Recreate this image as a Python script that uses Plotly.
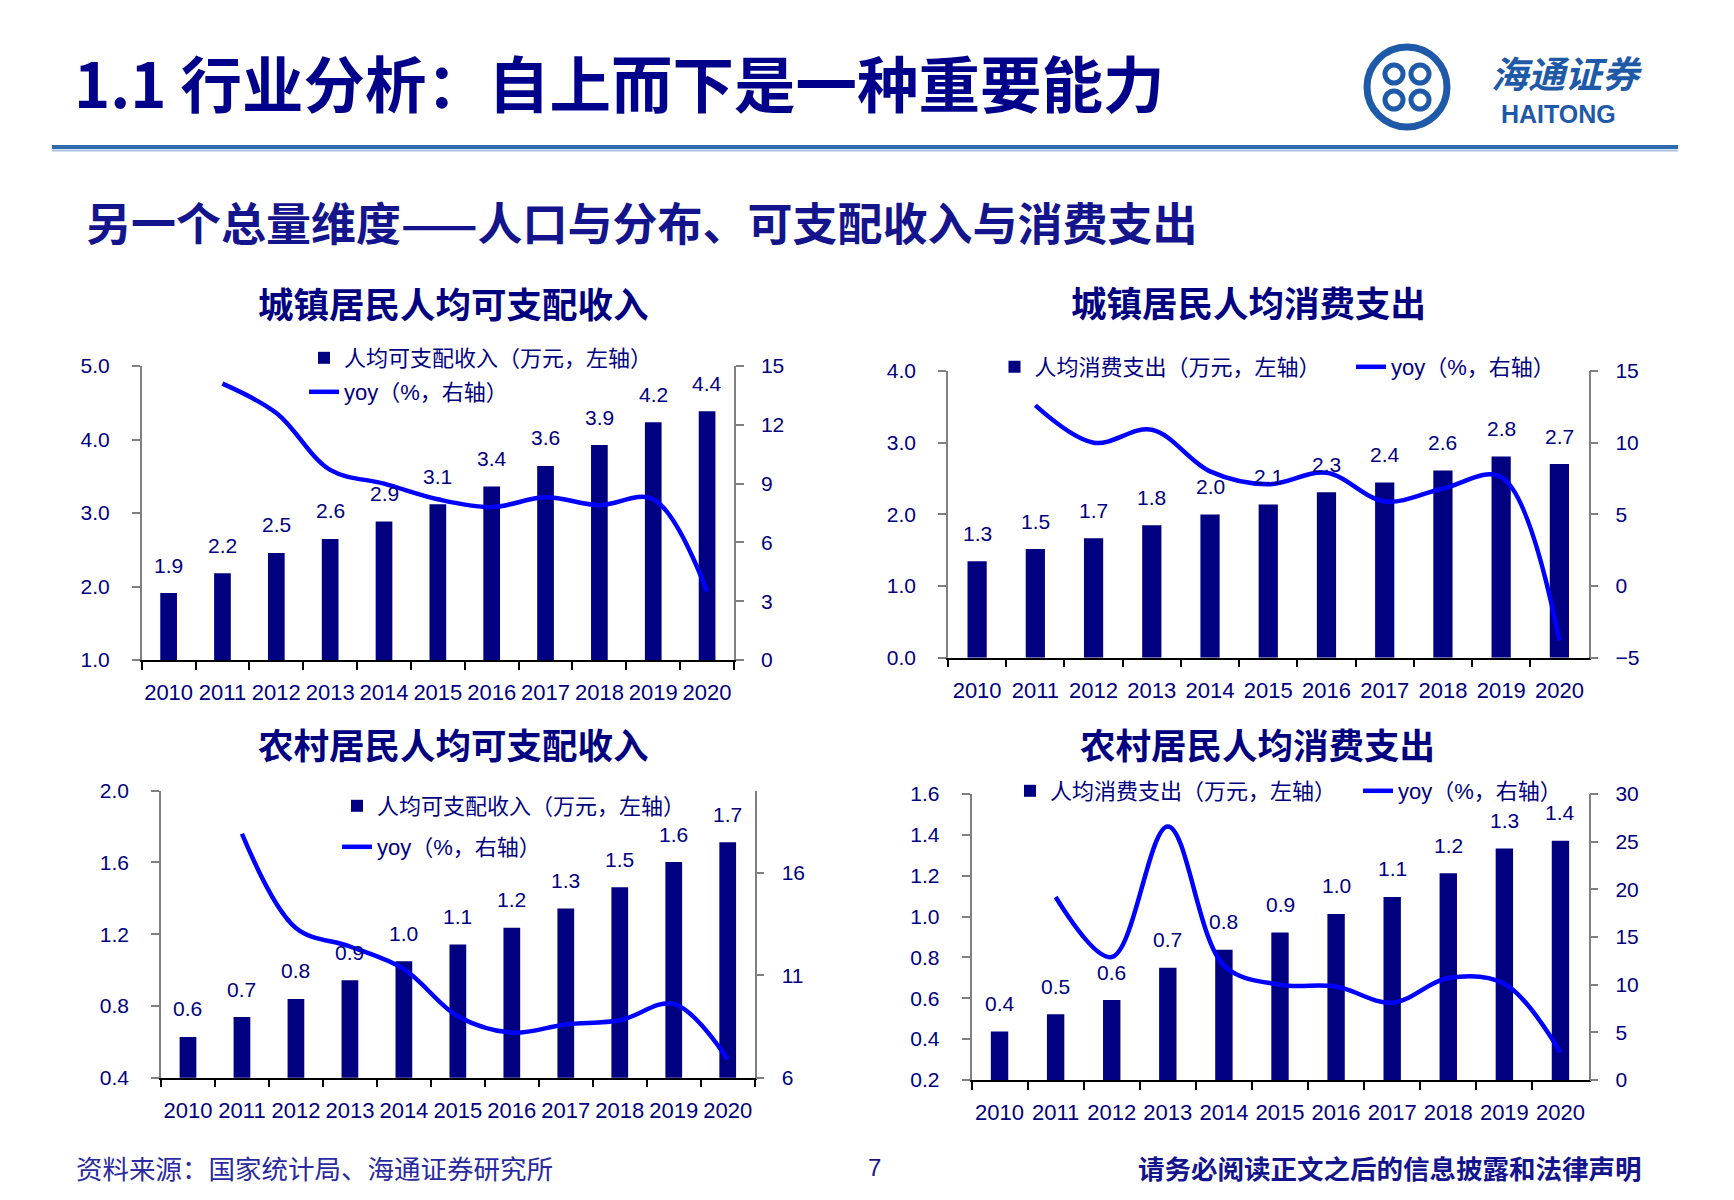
import plotly.graph_objects as go

W, H = 1734, 1200

years = ["2010", "2011", "2012", "2013", "2014", "2015", "2016", "2017", "2018", "2019", "2020"]
yoy_years = years[1:]

urban_income = [1.911, 2.181, 2.457, 2.647, 2.884, 3.120, 3.362, 3.640, 3.925, 4.236, 4.383]
urban_income_yoy = [14.1, 12.6, 9.7, 9.0, 8.2, 7.8, 8.3, 7.9, 8.2, 3.5]

urban_cons = [1.347, 1.516, 1.667, 1.849, 1.997, 2.139, 2.308, 2.445, 2.611, 2.806, 2.701]
urban_cons_yoy = [12.6, 10.0, 10.9, 8.0, 7.1, 7.9, 5.9, 6.8, 7.6, -3.8]

rural_income = [0.627, 0.738, 0.839, 0.943, 1.049, 1.142, 1.236, 1.343, 1.462, 1.602, 1.713]
rural_income_yoy = [17.9, 13.3, 12.4, 11.3, 9.0, 8.2, 8.6, 8.8, 9.6, 6.9]

rural_cons = [0.438, 0.522, 0.591, 0.749, 0.838, 0.922, 1.013, 1.096, 1.212, 1.333, 1.371]
rural_cons_yoy = [19.2, 12.9, 26.6, 12.0, 10.0, 9.8, 8.1, 10.7, 10.1, 2.9]

chart_titles = ["城镇居民人均可支配收入", "城镇居民人均消费支出", "农村居民人均可支配收入", "农村居民人均消费支出"]
bar_names = ["人均可支配收入（万元，左轴）", "人均消费支出（万元，左轴）", "人均可支配收入（万元，左轴）", "人均消费支出（万元，左轴）"]
line_name = "yoy（%，右轴）"

NAVY = "#000080"
BLUE = "#0000FF"
TXT = "#000080"
AXG = "#808080"
LAT = "Liberation Sans, Arial, Noto Sans CJK SC"
CJK = "Noto Sans CJK SC, Noto Sans CJK JP"


def fx(x):
    return x / W


def fy(y):
    return 1 - y / H


panels = [
    dict(bars=urban_income, yoy=urban_income_yoy, box=(141.7, 366, 734, 660),
         yl=dict(range=[1, 5], dtick=1), yr=dict(range=[0, 15], dtick=3, tick0=0), bw=0.31,
         title_xy=(453, 302), leg_bar=(344, 358), leg_line=(344, 392)),
    dict(bars=urban_cons, yoy=urban_cons_yoy, box=(948, 371, 1588.5, 657.7),
         yl=dict(range=[0, 4], dtick=1), yr=dict(range=[-5, 15], dtick=5, tick0=0), bw=0.33,
         title_xy=(1248, 301), leg_bar=(1034.5, 367), leg_line=(1391, 367)),
    dict(bars=rural_income, yoy=rural_income_yoy, box=(161, 790.7, 754.7, 1077.7),
         yl=dict(range=[0.4, 2.0], dtick=0.4, tick0=0.4), yr=dict(range=[6, 20], dtick=5, tick0=6), bw=0.31,
         title_xy=(453, 743), leg_bar=(377, 806), leg_line=(377, 847)),
    dict(bars=rural_cons, yoy=rural_cons_yoy, box=(971.5, 794, 1588.5, 1080),
         yl=dict(range=[0.2, 1.6], dtick=0.2, tick0=0.2), yr=dict(range=[0, 30], dtick=5, tick0=0), bw=0.31,
         title_xy=(1257, 743), leg_bar=(1050, 791), leg_line=(1398, 791)),
]

fig = go.Figure()
layout = dict(
    width=W, height=H,
    margin=dict(l=0, r=0, t=0, b=0, autoexpand=False),
    paper_bgcolor="white", plot_bgcolor="rgba(0,0,0,0)",
    barmode="overlay",
    annotations=[], shapes=[],
)

for i, p in enumerate(panels, start=1):
    xname = "xaxis" if i == 1 else f"xaxis{i}"
    xref = "x" if i == 1 else f"x{i}"
    li, ri = 2 * i - 1, 2 * i
    ylname = "yaxis" if li == 1 else f"yaxis{li}"
    ylref = "y" if li == 1 else f"y{li}"
    yrname = f"yaxis{ri}"
    yrref = f"y{ri}"
    lb = "legend" if li == 1 else f"legend{li}"
    ll = f"legend{ri}"
    x0, y0, x1, y1 = p["box"]

    fig.add_trace(go.Bar(
        x=years, y=p["bars"], name=bar_names[i - 1], xaxis=xref, yaxis=ylref,
        marker=dict(color=NAVY, line=dict(width=0)), width=p["bw"],
        legend=lb, showlegend=True, hoverinfo="x+y",
    ))
    fig.add_trace(go.Scatter(
        x=yoy_years, y=p["yoy"], name=line_name, xaxis=xref, yaxis=yrref,
        mode="lines", line=dict(color=BLUE, width=4.5, shape="spline", smoothing=1.0),
        legend=ll, showlegend=True,
    ))

    layout[xname] = dict(
        domain=[fx(x0), fx(x1)], anchor=ylref, type="category",
        categoryorder="array", categoryarray=years, range=[-0.5, len(years) - 0.5],
        showline=True, linecolor="black", linewidth=1.5,
        ticks="outside", tickson="boundaries", ticklen=8, tickcolor="black", tickwidth=1.5,
        tickfont=dict(family=LAT, size=22, color=TXT), ticklabelstandoff=12, tickangle=0,
        showgrid=False, zeroline=False, fixedrange=True,
    )
    layout[ylname] = dict(
        domain=[fy(y1), fy(y0)], anchor=xref, side="left",
        range=p["yl"]["range"], dtick=p["yl"]["dtick"], tick0=p["yl"].get("tick0", 0),
        tickformat=".1f",
        showline=True, linecolor=AXG, linewidth=1.5,
        ticks="outside", ticklen=8, tickcolor=AXG, tickwidth=1.5,
        tickfont=dict(family=LAT, size=21, color=TXT), ticklabelstandoff=18,
        showgrid=False, zeroline=False,
    )
    layout[yrname] = dict(
        overlaying=ylref, anchor=xref, side="right",
        range=p["yr"]["range"], dtick=p["yr"]["dtick"], tick0=p["yr"]["tick0"],
        showline=True, linecolor=AXG, linewidth=1.5,
        ticks="outside", ticklen=8, tickcolor=AXG, tickwidth=1.5,
        tickfont=dict(family=LAT, size=21, color=TXT), ticklabelstandoff=13,
        showgrid=False, zeroline=False,
    )
    legfont = dict(family=LAT, size=22, color=TXT)
    layout[lb] = dict(x=fx(p["leg_bar"][0] - 40), y=fy(p["leg_bar"][1]), xanchor="left", yanchor="middle",
                      bgcolor="rgba(0,0,0,0)", borderwidth=0, font=legfont)
    layout[ll] = dict(x=fx(p["leg_line"][0] - 40), y=fy(p["leg_line"][1]), xanchor="left", yanchor="middle",
                      bgcolor="rgba(0,0,0,0)", borderwidth=0, font=legfont)

    # chart title
    layout["annotations"].append(dict(
        text=f"<b>{chart_titles[i - 1]}</b>", xref="paper", yref="paper",
        x=fx(p["title_xy"][0]), y=fy(p["title_xy"][1]), xanchor="center", yanchor="middle",
        showarrow=False, font=dict(family=CJK, size=35.5, color=NAVY),
    ))
    # data labels (category index on the category axis)
    for j, v in enumerate(p["bars"]):
        layout["annotations"].append(dict(
            text=f"{v:.1f}", x=j, y=v, xref=xref, yref=ylref, yshift=28,
            xanchor="center", yanchor="middle", showarrow=False,
            font=dict(family=LAT, size=21, color=TXT),
        ))

# page title, subtitle, footer
layout["annotations"] += [
    dict(text="<b>1.1 行业分析：自上而下是一种重要能力</b>", xref="paper", yref="paper",
         x=fx(72), y=fy(81), xanchor="left", yanchor="middle", showarrow=False,
         font=dict(family=CJK, size=61.5, color="#00008B")),
    dict(text="<b>另一个总量维度——人口与分布、可支配收入与消费支出</b>", xref="paper", yref="paper",
         x=fx(84), y=fy(221), xanchor="left", yanchor="middle", showarrow=False,
         font=dict(family=CJK, size=45, color="#14148C")),
    dict(text="资料来源：国家统计局、海通证券研究所", xref="paper", yref="paper",
         x=fx(74), y=fy(1167), xanchor="left", yanchor="middle", showarrow=False,
         font=dict(family=CJK, size=26.5, color="#2A2AA0")),
    dict(text="7", xref="paper", yref="paper",
         x=fx(874), y=fy(1167), xanchor="center", yanchor="middle", showarrow=False,
         font=dict(family=LAT, size=24, color="#14148C")),
    dict(text="<b>请务必阅读正文之后的信息披露和法律声明</b>", xref="paper", yref="paper",
         x=fx(1644), y=fy(1167), xanchor="right", yanchor="middle", showarrow=False,
         font=dict(family=CJK, size=26.5, color="#14148C")),
    # logo text
    dict(text="<b><i>海通证券</i></b>", xref="paper", yref="paper",
         x=fx(1566), y=fy(72), xanchor="center", yanchor="middle", showarrow=False,
         font=dict(family=CJK, size=37, color="#1E5AA8")),
    dict(text="<b>HAITONG</b>", xref="paper", yref="paper",
         x=fx(1558), y=fy(114), xanchor="center", yanchor="middle", showarrow=False,
         font=dict(family=LAT, size=25, color="#1E5AA8")),
]

LOGO = "#1E5AA8"
cx, cy, r = 1407, 87, 40
layout["shapes"] += [
    dict(type="line", xref="paper", yref="paper", x0=fx(52), x1=fx(1678), y0=fy(147), y1=fy(147),
         line=dict(color="#2E6AAE", width=4)),
    dict(type="line", xref="paper", yref="paper", x0=fx(52), x1=fx(1678), y0=fy(150.5), y1=fy(150.5),
         line=dict(color="#A9C2E0", width=2)),
    dict(type="circle", xref="paper", yref="paper", x0=fx(cx - r), x1=fx(cx + r), y0=fy(cy + r), y1=fy(cy - r),
         line=dict(color=LOGO, width=7)),
]
for dx, dy in [(-13, -13), (13, -13), (-13, 13), (13, 13)]:
    rr = 9
    layout["shapes"].append(dict(type="circle", xref="paper", yref="paper",
                                 x0=fx(cx + dx - rr), x1=fx(cx + dx + rr),
                                 y0=fy(cy + dy + rr), y1=fy(cy + dy - rr),
                                 line=dict(color=LOGO, width=5)))

fig.update_layout(**layout)
fig.write_html("out.html", config={"displayModeBar": False},
               post_script="document.body.style.margin='0px';")
